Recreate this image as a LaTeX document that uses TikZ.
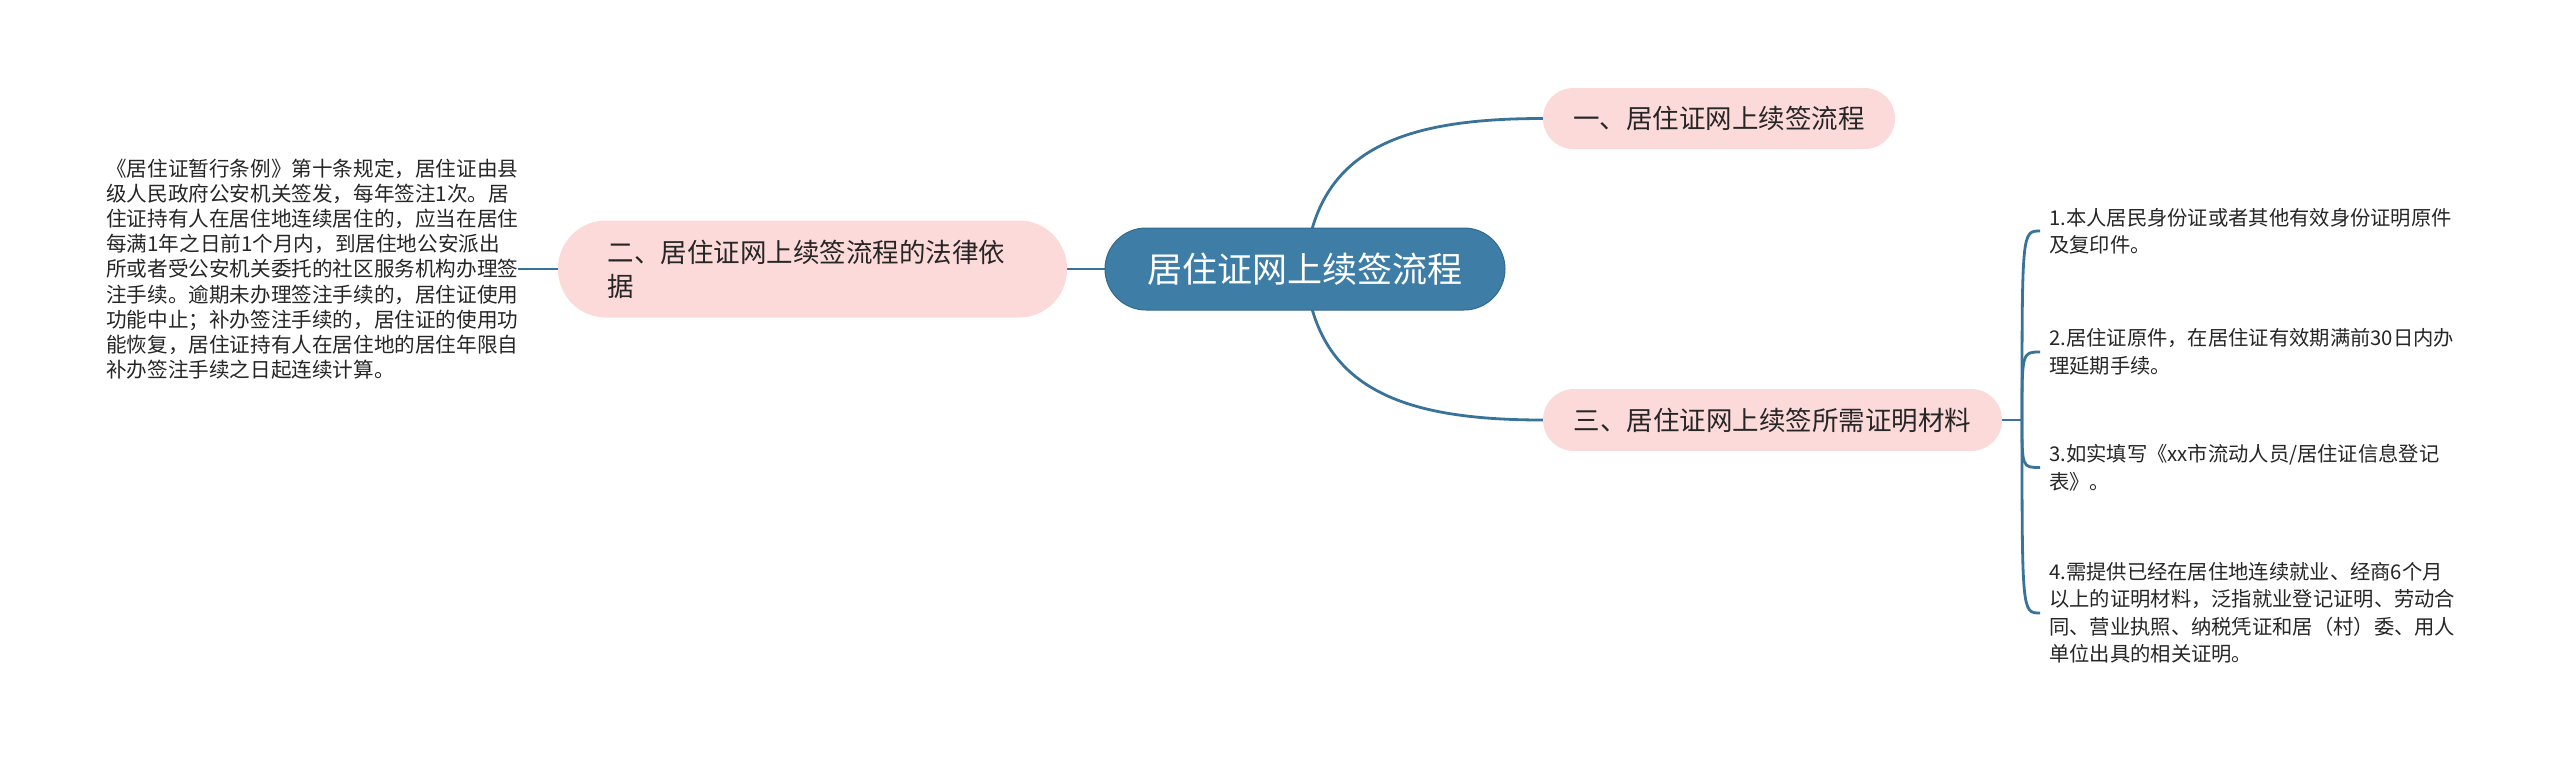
\documentclass[tikz,border=0pt]{standalone}
\usepackage{fontspec}
\setmainfont{Noto Sans CJK SC}
\usetikzlibrary{backgrounds}
\definecolor{rootfill}{HTML}{3E7DA6}
\definecolor{linecol}{HTML}{3A7399}
\definecolor{pinkfill}{HTML}{FCDADA}
\definecolor{txt}{HTML}{262626}
\begin{document}
\begin{tikzpicture}[x=1pt,y=-1pt,
  conn/.style={draw=linecol,line width=2.8pt},
  rootbox/.style={fill=rootfill,draw=rootfill!85!black,line width=1pt,rounded corners=41pt,
    minimum width=400pt,minimum height=82pt,inner sep=0pt,text=white,
    font=\fontsize{35pt}{42pt}\selectfont},
  topicbox/.style={fill=pinkfill,rounded corners=30.5pt,minimum height=61pt,inner sep=0pt,
    text=txt,font=\fontsize{26.5pt}{34pt}\selectfont},
  lawtext/.style={inner sep=0pt,anchor=west,align=left,text=txt,
    font=\fontsize{20.6pt}{25.2pt}\selectfont},
  itemtext/.style={inner sep=0pt,anchor=west,align=left,text=txt,
    font=\fontsize{20.3pt}{27.5pt}\selectfont}
]
\useasboundingbox (0,0) rectangle (2560,761);

\node[rootbox] (root) at (1305,269) {居住证网上续签流程};
\node[topicbox,minimum width=352pt] (t1) at (1719,118.5) {一、居住证网上续签流程};
\node[topicbox,minimum width=459pt,minimum height=62pt,rounded corners=31pt] (t3) at (1772.5,420) {三、居住证网上续签所需证明材料};
\node[topicbox,minimum width=509pt,minimum height=97pt,rounded corners=48pt,
  text width=410pt,inner xsep=49.5pt,align=left] (t2) at (812.5,269)
  {二、居住证网上续签流程的法律依\\据};

\node[lawtext] (law) at (106,269) {《居住证暂行条例》第十条规定，居住证由县\\
级人民政府公安机关签发，每年签注1次。居\\
住证持有人在居住地连续居住的，应当在居住\\
每满1年之日前1个月内，到居住地公安派出\\
所或者受公安机关委托的社区服务机构办理签\\
注手续。逾期未办理签注手续的，居住证使用\\
功能中止；补办签注手续的，居住证的使用功\\
能恢复，居住证持有人在居住地的居住年限自\\
补办签注手续之日起连续计算。};

\node[itemtext] (m1) at (2049,231) {1.本人居民身份证或者其他有效身份证明原件\\及复印件。};
\node[itemtext] (m2) at (2049,352) {2.居住证原件，在居住证有效期满前30日内办\\理延期手续。};
\node[itemtext] (m3) at (2049,467.5) {3.如实填写《xx市流动人员/居住证信息登记\\表》。};
\node[itemtext] (m4) at (2049,613) {4.需提供已经在居住地连续就业、经商6个月\\以上的证明材料，泛指就业登记证明、劳动合\\同、营业执照、纳税凭证和居（村）委、用人\\单位出具的相关证明。};

\begin{scope}[on background layer]
\fill[white] (0,0) rectangle (2560,761);
\draw[conn] (root.center) .. controls (1315,150) and (1400,118.5) .. (t1.west);
\draw[conn] (root.center) .. controls (1315,388) and (1400,420) .. (t3.west);
\draw[conn] (root.west) -- (t2.east);
\draw[conn] (t2.west) -- (law.east);
\coordinate (J) at (2022,420);
\draw[conn] (t3.east) -- (J);
\foreach \m in {m1,m2,m3,m4}
  \draw[conn] (J) .. controls (J |- \m.west) .. ([xshift=-9pt]\m.west);
\end{scope}
\end{tikzpicture}
\end{document}
